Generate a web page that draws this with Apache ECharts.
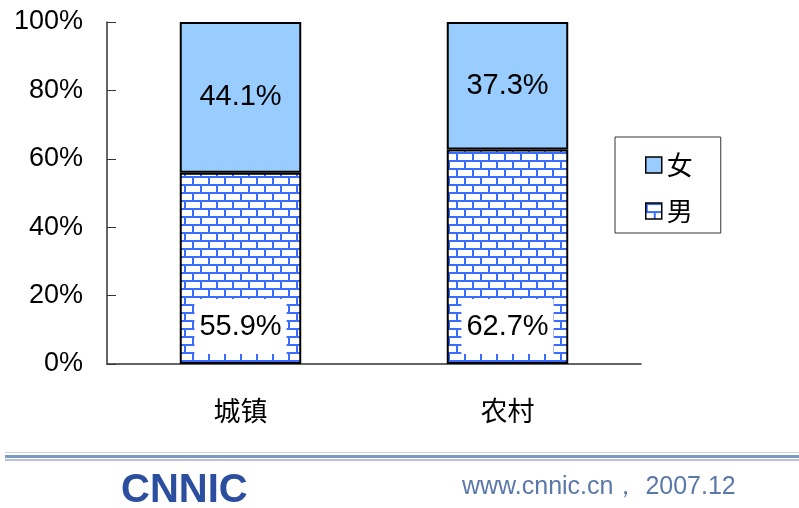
<!DOCTYPE html>
<html><head><meta charset="utf-8">
<script src="https://cdn.jsdelivr.net/npm/echarts@6/dist/echarts.min.js"></script>
<style>html,body{margin:0;padding:0;background:#fff}#c{width:799px;height:508px}</style>
</head><body><div id="c"></div>
<script>
const categories = ['城镇', '农村'];
const maleValues = [55.9, 62.7];
const femaleValues = [44.1, 37.3];
const yTicks = [0, 20, 40, 60, 80, 100];

function brick() {
  const c = document.createElement('canvas');
  c.width = 16; c.height = 16;
  const g = c.getContext('2d');
  g.fillStyle = '#ffffff'; g.fillRect(0, 0, 16, 16);
  g.fillStyle = '#3a6cff';
  g.fillRect(0, 0, 16, 2);
  g.fillRect(0, 8, 16, 2);
  g.fillRect(0, 0, 2, 8);
  g.fillRect(8, 8, 2, 8);
  return c;
}
const chart = echarts.init(document.getElementById('c'), null, {renderer: 'canvas'});
const font = 'Liberation Sans, Arial, sans-serif';
chart.setOption({
  animation: false,
  grid: {left: 107, right: 158, top: 22, bottom: 144},
  legend: {
    orient: 'vertical', left: 615, top: 137,
    data: ['女', '男'],
    icon: 'rect',
    padding: [15, 28, 9, 30],
    itemWidth: 16, itemHeight: 16, itemGap: 20,
    borderColor: '#333', borderWidth: 1,
    textStyle: {fontSize: 26, color: '#000', fontFamily: 'Noto Sans CJK SC'},
    itemStyle: {borderColor: '#000', borderWidth: 1.5}
  },
  xAxis: {
    type: 'category', data: categories,
    axisLine: {lineStyle: {color: '#333', width: 1.5}},
    axisTick: {inside: true, length: 10, lineStyle: {color: '#666', width: 1.5}},
    axisLabel: {fontSize: 27, color: '#000', margin: 33, fontFamily: 'Noto Sans CJK SC'}
  },
  yAxis: {
    type: 'value', min: yTicks[0], max: yTicks[yTicks.length - 1], interval: 20,
    axisLine: {show: true, lineStyle: {color: '#333', width: 1.5}},
    axisTick: {show: true, inside: true, length: 9, lineStyle: {color: '#333', width: 1}},
    splitLine: {show: false},
    axisLabel: {formatter: '{value}%', fontSize: 27, color: '#000', margin: 24, fontFamily: font}
  },
  series: [
    {
      name: '男', type: 'bar', stack: 's', data: maleValues, barWidth: '45.5%',
      itemStyle: {color: {image: brick(), repeat: 'repeat'}, borderColor: '#000', borderWidth: 2},
      label: {show: true, position: 'insideBottom', distance: 10, formatter: p => p.value.toFixed(1) + '%',
        fontSize: 29, color: '#000', fontFamily: font, backgroundColor: '#fff', padding: [13, 5]}
    },
    {
      name: '女', type: 'bar', stack: 's', data: femaleValues, barWidth: '45.5%',
      itemStyle: {color: '#99ccff', borderColor: '#000', borderWidth: 2},
      label: {show: true, position: 'inside', formatter: p => p.value.toFixed(1) + '%',
        fontSize: 29, color: '#000', fontFamily: font}
    }
  ],
  graphic: [
    {type: 'rect', shape: {x: 5, y: 452, width: 794, height: 1}, style: {fill: '#c9d5e6'}},
    {type: 'rect', shape: {x: 5, y: 455, width: 794, height: 3}, style: {fill: '#7f9ac2'}},
    {type: 'rect', shape: {x: 5, y: 459, width: 794, height: 2}, style: {fill: '#b4c4da'}},
    {type: 'text', left: 121, top: 471, style: {text: 'CNNIC', fontSize: 40, fontWeight: 'bold', fill: '#2b4f9e', fontFamily: font}},
    {type: 'text', left: 462, top: 475, style: {text: 'www.cnnic.cn， 2007.12', fontSize: 25, fill: '#5a78aa', fontFamily: font}}
  ]
});
</script></body></html>
